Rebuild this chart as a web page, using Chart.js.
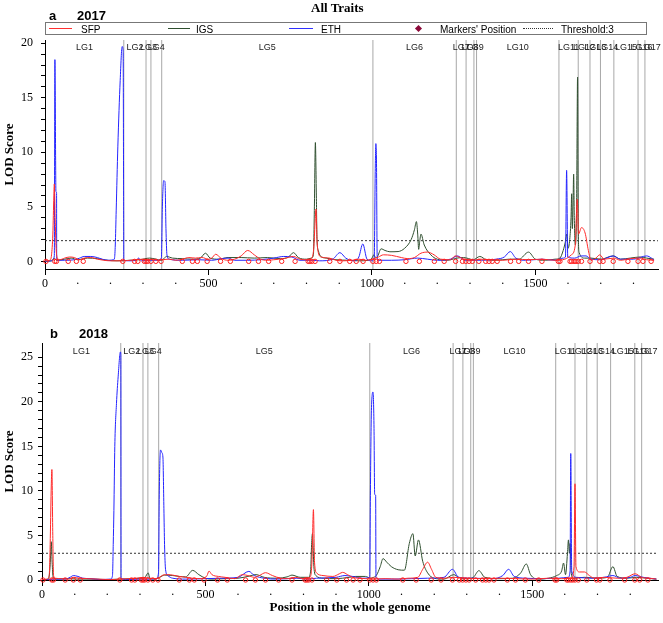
<!DOCTYPE html>
<html><head><meta charset="utf-8">
<script src="https://cdn.jsdelivr.net/npm/chart.js@4.4.1/dist/chart.umd.min.js"></script>
<style>
html,body{margin:0;padding:0;background:#fff;}
#wrap{position:relative;width:663px;height:623px;overflow:hidden;background:#fff;}
canvas{position:absolute;left:0;}
.t{position:absolute;white-space:nowrap;line-height:1;color:#000;}
.ln{position:absolute;height:0;}
</style></head><body>
<div id="wrap">
<canvas id="ca" width="663" height="300" style="top:0"></canvas>
<canvas id="cb" width="663" height="323" style="top:300px"></canvas>
<div class="t" style="left:311px;top:0px;font:bold 13px 'Liberation Serif',serif">All Traits</div>
<div class="t" style="left:49px;top:8px;font:bold 13px 'Liberation Sans',Arial,sans-serif">a</div>
<div class="t" style="left:77px;top:8px;font:bold 13px 'Liberation Sans',Arial,sans-serif">2017</div>
<div class="t" style="left:50px;top:326px;font:bold 13px 'Liberation Sans',Arial,sans-serif">b</div>
<div class="t" style="left:79px;top:326px;font:bold 13px 'Liberation Sans',Arial,sans-serif">2018</div>
<div style="position:absolute;left:45px;top:22px;width:602px;height:13px;border:1px solid #777;box-sizing:border-box;"></div>
<div class="ln" style="left:49px;top:28px;width:23px;border-top:1.5px solid #ff3030"></div>
<div class="t" style="left:81px;top:24px;font:10px 'Liberation Sans',Arial,sans-serif">SFP</div>
<div class="ln" style="left:168px;top:28px;width:22px;border-top:1.5px solid #2f4f2f"></div>
<div class="t" style="left:196px;top:24px;font:10px 'Liberation Sans',Arial,sans-serif">IGS</div>
<div class="ln" style="left:289px;top:28px;width:24px;border-top:1.5px solid #3030ff"></div>
<div class="t" style="left:321px;top:24px;font:10px 'Liberation Sans',Arial,sans-serif">ETH</div>
<div style="position:absolute;left:416px;top:26px;width:5px;height:5px;background:#8b0a3a;transform:rotate(45deg)"></div>
<div class="t" style="left:440px;top:24px;font:10px 'Liberation Sans',Arial,sans-serif">Markers' Position</div>
<div class="ln" style="left:523px;top:28px;width:30px;border-top:1px dotted #333"></div>
<div class="t" style="left:561px;top:24px;font:10px 'Liberation Sans',Arial,sans-serif">Threshold:3</div>
</div>
<script>
// ---------- data ----------
const lgNames = ['LG1','LG2','LG3','LG4','LG5','LG6','LG7','LG8','LG9','LG10','LG11','LG12','LG13','LG14','LG15','LG16','LG17'];
const lgBounds = [0,241,309,324,357,1003,1258,1288,1312,1320,1572,1631,1667,1699,1740,1814,1835,1865];
const markerPos = [3,30,35,71,96,117,238,274,284,304,309,314,324,339,355,420,451,466,496,537,567,623,653,684,724,765,805,810,816,826,871,902,932,952,973,1003,1013,1023,1104,1145,1191,1221,1256,1277,1287,1297,1307,1327,1348,1358,1368,1383,1424,1449,1479,1520,1570,1575,1606,1611,1618,1624,1631,1641,1667,1697,1707,1738,1783,1814,1829,1854];
const xTickValues = [0,100,200,300,400,500,600,700,800,900,1000,1100,1200,1300,1400,1500,1600,1700,1800];
const yTicks2017 = [0,1,2,3,4,5,6,7,8,9,10,11,12,13,14,15,16,17,18,19,20];
const yTicks2018 = [0,1,2,3,4,5,6,7,8,9,10,11,12,13,14,15,16,17,18,19,20,21,22,23,24,25];
const threshold2017 = 1.9;
const threshold2018 = 3;

const sfp2017 = [[0,0.05],[15,0.1],[20,0.6],[24,2.5],[27,6],[28.5,7.1],[31,4],[34,1.2],[38,0.3],[45,0.15],[60,0.3],[75,0.4],[90,0.35],[105,0.15],[120,0.3],[140,0.35],[160,0.2],[180,0.1],[200,0.05],[240,0.05],[260,0.1],[280,0.15],[300,0.2],[315,0.1],[330,0.2],[345,0.1],[360,0.15],[380,0.2],[400,0.1],[420,0.2],[440,0.35],[460,0.3],[480,0.35],[500,0.2],[510,0.3],[522,0.65],[540,0.25],[560,0.1],[580,0.2],[600,0.5],[620,1.0],[640,0.6],[660,0.2],[680,0.1],[700,0.15],[730,0.25],[760,0.45],[780,0.2],[800,0.15],[815,0.3],[822,1.2],[826,3.5],[829,4.8],[832,2],[836,0.8],[845,0.4],[870,0.3],[890,0.1],[910,0.05],[940,0.1],[960,0.2],[980,0.1],[1000,0.2],[1020,0.4],[1035,0.6],[1060,0.55],[1090,0.35],[1110,0.25],[1130,0.35],[1150,0.75],[1170,0.85],[1190,0.6],[1210,0.2],[1240,0.15],[1255,0.5],[1270,0.35],[1290,0.15],[1310,0.1],[1330,0.2],[1360,0.15],[1400,0.1],[1440,0.2],[1480,0.15],[1520,0.2],[1560,0.1],[1590,0.2],[1610,0.6],[1622,1.5],[1628,5.7],[1632,2.5],[1641,3.1],[1652,2.6],[1662,1.0],[1670,0.1],[1685,0.3],[1697,0.6],[1710,0.2],[1740,0.3],[1760,0.1],[1790,0.25],[1820,0.3],[1840,0.15],[1863,0.1]];
const igs2017 = [[0,0],[20,0.05],[28,0.3],[35,0.1],[60,0.2],[80,0.3],[100,0.15],[130,0.3],[160,0.25],[190,0.1],[220,0.05],[260,0.1],[290,0.15],[320,0.3],[340,0.2],[355,0.1],[365,0.3],[372,0.45],[390,0.3],[420,0.25],[450,0.2],[475,0.3],[491,0.75],[505,0.3],[530,0.2],[560,0.35],[600,0.35],[640,0.3],[680,0.35],[720,0.25],[745,0.4],[760,0.8],[775,0.35],[800,0.2],[815,0.3],[821,0.6],[824,5],[827,10.9],[830,6],[832,2],[836,1],[842,0.5],[860,0.3],[890,0.15],[930,0.1],[960,0.05],[990,0.1],[1000,0.3],[1006,0.6],[1012,0.3],[1018,0.5],[1028,1.15],[1040,1.0],[1055,0.88],[1080,0.9],[1100,1.2],[1120,2.0],[1130,2.9],[1136,3.65],[1140,2.5],[1143,1.1],[1146,1.8],[1150,2.5],[1160,1.5],[1180,0.6],[1200,0.2],[1230,0.1],[1260,0.3],[1280,0.35],[1290,0.3],[1310,0.15],[1330,0.45],[1350,0.15],[1380,0.1],[1420,0.2],[1450,0.2],[1479,0.85],[1500,0.2],[1530,0.1],[1560,0.2],[1575,0.3],[1585,1.0],[1591,1.7],[1596,2.5],[1600,1.2],[1605,2],[1609,4],[1611,6.2],[1613,3],[1615,5],[1617,8.0],[1619,4],[1622,1.5],[1626,5],[1629,16.9],[1631,3],[1634,0.8],[1650,0.3],[1670,0.3],[1700,0.2],[1738,0.5],[1760,0.2],[1790,0.3],[1820,0.4],[1840,0.3],[1863,0.2]];
const eth2017 = [[0,0.02],[20,0.05],[28.5,0.5],[30.3,18.5],[33.5,6.4],[35.4,6.3],[35.8,0.2],[40,0.1],[60,0.1],[90,0.15],[106,0.3],[120,0.45],[140,0.45],[160,0.35],[175,0.2],[195,0.1],[210,0.15],[212.7,0.3],[215,1.5],[217.8,4.7],[222.8,10.5],[230,16.6],[236,19.7],[239,19.3],[240.5,5],[241,0.1],[260,0.05],[280,0.1],[286,0.3],[295,0.05],[320,0.1],[345,0.1],[356,0.3],[359,5],[363,7.4],[367,7.3],[370,3],[373,0.6],[380,0.2],[420,0.1],[470,0.15],[510,0.1],[540,0.25],[560,0.3],[580,0.1],[620,0.1],[660,0.15],[700,0.3],[730,0.45],[755,0.4],[780,0.1],[820,0.1],[840,0.05],[880,0.2],[902,0.8],[920,0.3],[945,0.05],[960,0.4],[972,1.6],[985,0.2],[1000,0.05],[1007,0.3],[1010,8],[1012,10.8],[1014,9],[1016,0.5],[1020,0.1],[1060,0.1],[1100,0.15],[1140,0.3],[1170,0.2],[1200,0.1],[1240,0.2],[1262,0.5],[1285,0.1],[1320,0.1],[1380,0.2],[1405,0.4],[1423,0.9],[1440,0.3],[1470,0.1],[1520,0.2],[1560,0.1],[1585,0.3],[1592,0.4],[1595.5,8.34],[1599,0.4],[1620,0.3],[1640,0.5],[1655,0.5],[1670,0.2],[1700,0.15],[1738,0.5],[1760,0.2],[1800,0.2],[1840,0.5],[1855,0.3],[1863,0.1]];

const sfp2018 = [[0,0.05],[15,0.1],[22,0.5],[25,4],[28,10],[30.3,12.4],[33,5],[35.4,0.5],[40,0.2],[60,0.15],[80,0.1],[96,0.3],[115,0.2],[140,0.15],[170,0.1],[210,0.05],[240,0.1],[270,0.15],[290,0.2],[310,0.3],[330,0.2],[350,0.15],[360,0.3],[370,0.55],[385,0.6],[400,0.55],[420,0.4],[440,0.3],[460,0.2],[490,0.15],[505,0.5],[511,1.0],[520,0.6],[540,0.4],[560,0.3],[590,0.15],[613,0.6],[630,0.5],[650,0.3],[665,0.5],[684,0.82],[705,0.5],[730,0.2],[750,0.15],[775,0.3],[800,0.15],[820,0.3],[826,2],[830.6,7.9],[834,2],[840,0.8],[860,0.5],[890,0.4],[910,0.7],[920,0.86],[935,0.6],[950,0.3],[970,0.2],[990,0.15],[1010,0.1],[1050,0.15],[1090,0.1],[1120,0.2],[1150,0.3],[1165,1.2],[1180,2.0],[1192,1.2],[1205,0.3],[1230,0.2],[1260,0.3],[1300,0.2],[1350,0.15],[1400,0.2],[1450,0.15],[1500,0.1],[1550,0.2],[1590,0.15],[1620,0.2],[1628,1.5],[1631,10.8],[1634,1.5],[1645,0.9],[1660,0.9],[1675,0.5],[1690,0.2],[1720,0.3],[1760,0.2],[1790,0.3],[1815,0.7],[1835,0.3],[1860,0.2],[1880,0.1]];
const igs2018 = [[0,0.02],[20,0.1],[25,1.7],[28.3,4.3],[31,2],[34,0.3],[45,0.1],[80,0.15],[110,0.1],[150,0.1],[200,0.05],[240,0.1],[280,0.15],[300,0.2],[315,0.3],[325,0.8],[330,0.2],[345,0.1],[360,0.3],[375,0.55],[400,0.5],[420,0.4],[440,0.35],[461,1.08],[480,0.6],[500,0.2],[520,0.1],[560,0.15],[600,0.2],[630,0.4],[655,0.6],[680,0.3],[720,0.2],[750,0.35],[765,0.55],[790,0.3],[815,0.3],[822,1],[825,4],[827.5,5.2],[829.5,3.9],[832,1.5],[838,0.5],[860,0.2],[900,0.15],[940,0.3],[960,0.4],[990,0.4],[1005,0.2],[1015,0.3],[1023,0.5],[1035,1.5],[1043.5,2.4],[1055,2.0],[1069,1.5],[1090,1.15],[1109,1.1],[1124,4.1],[1135,5.2],[1142,2.7],[1152,4.5],[1165,2.1],[1180,0.8],[1200,0.2],[1230,0.1],[1260,0.6],[1275,0.3],[1300,0.15],[1320,0.3],[1337,1.05],[1355,0.3],[1400,0.15],[1440,0.2],[1465,0.8],[1482,1.8],[1495,0.6],[1520,0.1],[1550,0.2],[1575,0.5],[1590,1.0],[1596,1.9],[1602,0.6],[1608,3],[1611,4.5],[1614,3],[1616,4.1],[1619,1.0],[1625,0.2],[1660,0.3],[1700,0.2],[1730,0.3],[1747,1.5],[1760,0.4],[1790,0.2],[1820,0.3],[1850,0.2],[1880,0.1]];
const eth2018 = [[0,0.02],[20,0.05],[40,0.1],[70,0.1],[86,0.3],[96,0.5],[110,0.4],[125,0.2],[150,0.15],[180,0.05],[210,0.1],[215.7,0.5],[218,4],[220,7.8],[222.8,15],[227.9,19.8],[233,22.8],[240,25.6],[241.3,25.3],[242,0.2],[260,0.05],[300,0.1],[330,0.1],[350,0.15],[356.5,0.8],[359,10],[362.6,14.6],[366.6,14.3],[370,13.8],[373,8],[375,4],[378,1.2],[385,0.5],[400,0.2],[440,0.1],[500,0.15],[550,0.2],[600,0.3],[633,0.97],[650,0.5],[680,0.2],[720,0.1],[780,0.2],[810,0.1],[840,0.2],[900,0.3],[927,0.5],[950,0.4],[980,0.2],[1003,0.3],[1005,10],[1008,19],[1013,21.1],[1016,17],[1018,9.6],[1021,9.5],[1022,0.3],[1030,0.1],[1080,0.1],[1130,0.15],[1180,0.2],[1230,0.3],[1256,1.2],[1275,0.3],[1320,0.2],[1380,0.15],[1410,0.5],[1428,1.2],[1445,0.4],[1480,0.2],[1530,0.15],[1580,0.2],[1610,0.3],[1616,1],[1618,14.2],[1621,1],[1635,0.3],[1680,0.2],[1720,0.3],[1747,0.5],[1770,0.2],[1800,0.3],[1815,0.5],[1840,0.3],[1880,0.1]];

// ---------- chart builder ----------
const serif = "'Liberation Serif','Times New Roman',serif";
const sans = "'Liberation Sans',Arial,sans-serif";
const toXY = a => a.map(p => ({x:p[0], y:p[1]}));

function lgLines(ymin, ymax){
  const d = [];
  lgBounds.slice(1, -1).forEach(b => { d.push({x:b,y:ymin},{x:b,y:ymax},{x:b,y:null}); });
  return d;
}

const lgLabelPlugin = {
  id:'lgLabels',
  afterDatasetsDraw(chart, args, opts){
    const {ctx, chartArea, scales:{x}} = chart;
    ctx.save();
    ctx.font = "9px " + sans;
    ctx.fillStyle = '#222';
    ctx.textAlign = 'center';
    ctx.textBaseline = 'middle';
    for (let i = 0; i < lgNames.length; i++){
      const c = (lgBounds[i] + lgBounds[i+1]) / 2;
      ctx.fillText(lgNames[i], x.getPixelForValue(c), chartArea.top + opts.dy);
    }
    ctx.restore();
  }
};

function makeChart(id, cfg){
  const line = (data, color, order) => ({
    data: toXY(data), borderColor: color, borderWidth: 1, pointRadius: 0,
    cubicInterpolationMode: 'monotone', fill: false, order
  });
  new Chart(document.getElementById(id), {
    type: 'line',
    data: { datasets: [
      { data: markerPos.map(p => ({x:p, y:0})), showLine:false, pointRadius:2.2, pointStyle:'circle', clip:false,
        pointBorderColor:'#ff2020', pointBackgroundColor:'rgba(255,255,255,0)', pointBorderWidth:1, order:0 },
      line(cfg.sfp, '#ff2a2a', 1),
      line(cfg.eth, '#2424ff', 2),
      line(cfg.igs, '#2f4f2f', 3),
      { data: [{x:0,y:cfg.th},{x:cfg.xmax,y:cfg.th}], borderColor:'#333', borderWidth:1, borderDash:[2,2], pointRadius:0, order:4 },
      { data: lgLines(cfg.ymin, cfg.ymax), borderColor:'#a8a8a8', borderWidth:1, pointRadius:0, spanGaps:false, order:5 }
    ]},
    options: {
      responsive:false, animation:false, devicePixelRatio:1,
      layout:{ padding:{ top:cfg.top, right:1, left:0, bottom:0 } },
      plugins:{ legend:{display:false}, tooltip:{enabled:false}, lgLabels:{ dy: cfg.lgdy } },
      scales:{
        x:{ type:'linear', min:0, max:cfg.xmax,
          afterFit: s => { s.height = cfg.xh; },
          afterBuildTicks: s => { s.ticks = xTickValues.map(v => ({value:v})); },
          border:{ display:true, color:'#000', width:1 },
          grid:{ drawOnChartArea:false, drawTicks:true, tickLength:6,
                 tickColor: c => (c.tick && c.tick.value % 500 === 0) ? '#000' : 'rgba(0,0,0,0)' },
          ticks:{ autoSkip:false, maxRotation:0, padding:2, color:'#000',
                  font:{ family:serif, size:12 },
                  callback: v => (v % 500 === 0) ? String(v) : '·' },
          title:{ display: !!cfg.xtitle, text: cfg.xtitle || '', color:'#000',
                  font:{ family:serif, size:13, weight:'bold' }, padding:{ top:0, bottom:8 } }
        },
        y:{ type:'linear', min:cfg.ymin, max:cfg.ymax,
          afterFit: s => { s.width = cfg.yw; },
          afterBuildTicks: s => { s.ticks = cfg.yticks.map(v => ({value:v})); },
          border:{ display:true, color:'#000', width:1 },
          grid:{ drawOnChartArea:false, drawTicks:true, tickLength:4, tickColor:'#000' },
          ticks:{ autoSkip:false, padding:cfg.ypad, color:'#000',
                  font:{ family:serif, size:12 },
                  callback: v => (v % 5 === 0) ? String(v) : '' },
          title:{ display:true, text:'LOD Score', color:'#000',
                  font:{ family:serif, size:13, weight:'bold' }, padding:{ top:2, bottom:0 } }
        }
      }
    },
    plugins:[lgLabelPlugin]
  });
}

makeChart('ca', { sfp:sfp2017, igs:igs2017, eth:eth2017, th:threshold2017, yticks:yTicks2017,
  xmax:1875, ymin:-0.7, ymax:20.3, top:40, xh:31, yw:45, ypad:8, lgdy:8 });
makeChart('cb', { sfp:sfp2018, igs:igs2018, eth:eth2018, th:threshold2018, yticks:yTicks2018,
  xmax:1885, ymin:0, ymax:26.6, top:43, xh:43, yw:42, ypad:5, lgdy:9,
  xtitle:'Position in the whole genome' });
</script>
</body></html>
